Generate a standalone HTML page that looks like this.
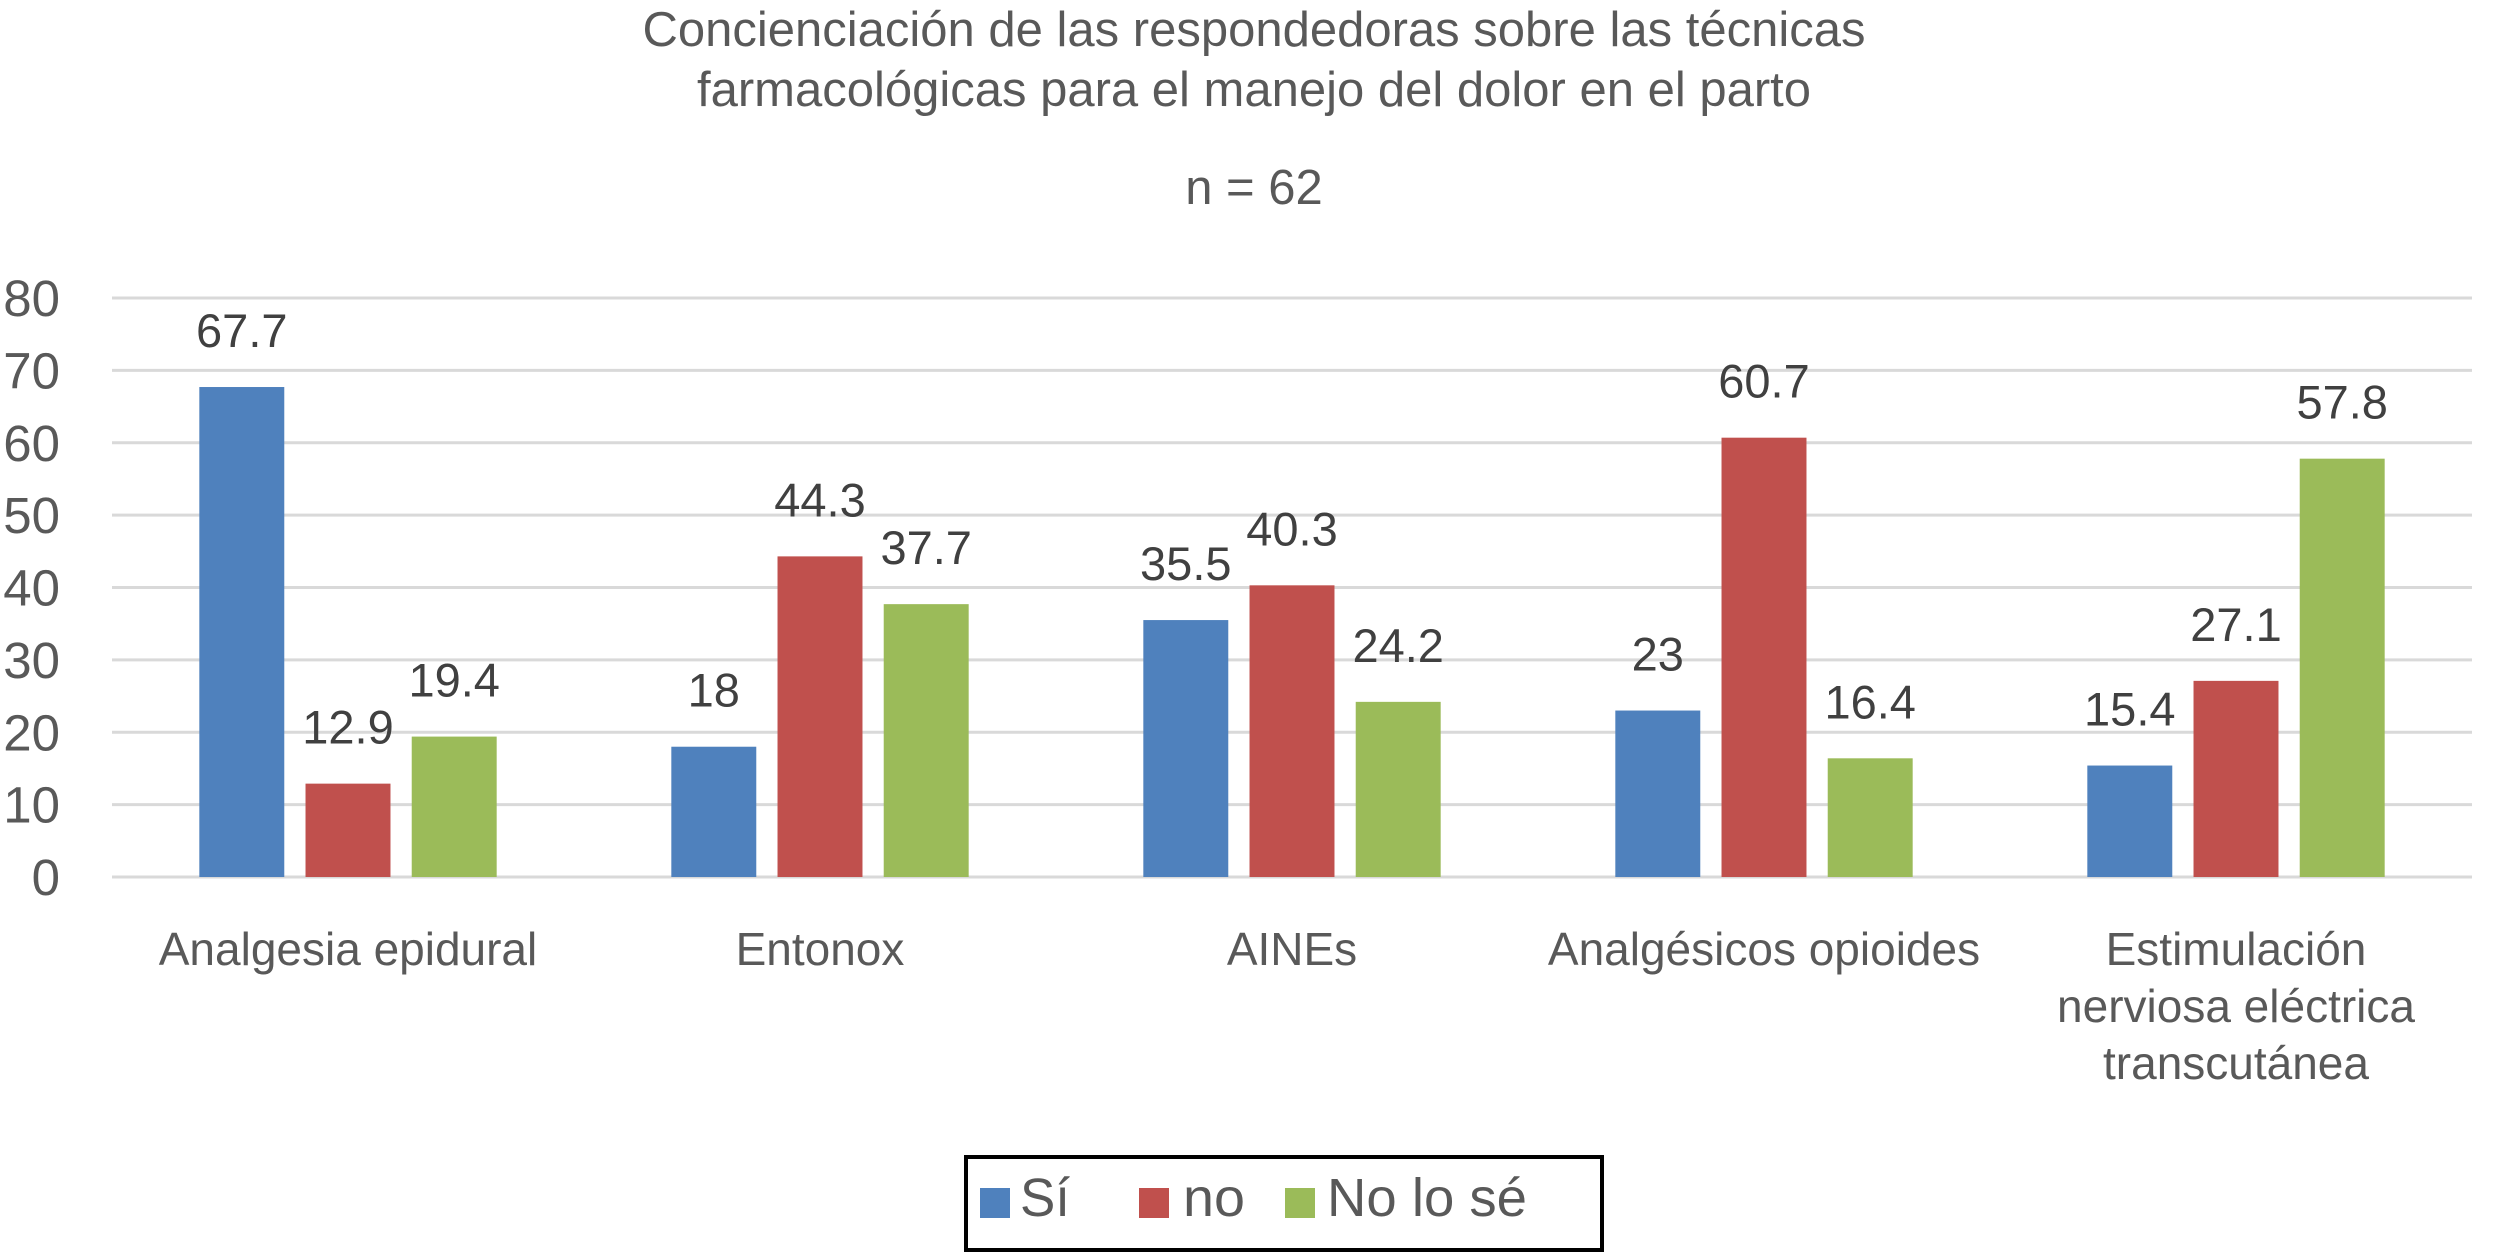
<!DOCTYPE html>
<html><head><meta charset="utf-8"><style>
html,body{margin:0;padding:0;background:#fff;}
svg{display:block;font-family:"Liberation Sans",Arial,sans-serif;}
</style></head><body>
<svg id="chart" width="2509" height="1255" viewBox="0 0 2509 1255" xmlns="http://www.w3.org/2000/svg">
<g fill="#595959" font-size="49" text-anchor="middle">
<text x="1254" y="46">Concienciación de las respondedoras sobre las técnicas</text>
<text x="1254" y="106">farmacológicas para el manejo del dolor en el parto</text>
<text x="1254" y="204">n = 62</text>
</g>
<g id="grid"></g><g id="yticks"></g><g id="bars"></g><g id="vals"></g><g id="cats"></g>
<g>
<rect x="966" y="1157" width="636" height="93" fill="#fff" stroke="#000" stroke-width="4"/>
<rect x="980" y="1188" width="30" height="30" fill="#4f81bd"/>
<text x="1020" y="1216" font-size="54" fill="#595959" textLength="50" lengthAdjust="spacingAndGlyphs">Sí</text>
<rect x="1139" y="1188" width="30" height="30" fill="#c0504d"/>
<text x="1183" y="1216" font-size="54" fill="#595959" textLength="62" lengthAdjust="spacingAndGlyphs">no</text>
<rect x="1285" y="1188" width="30" height="30" fill="#9bbb59"/>
<text x="1327" y="1216" font-size="54" fill="#595959" textLength="200" lengthAdjust="spacingAndGlyphs">No lo sé</text>
</g>
</svg>
<script>
const categories = [["Analgesia epidural"],["Entonox"],["AINEs"],["Analgésicos opioides"],["Estimulación","nerviosa eléctrica","transcutánea"]];
const siValues = [67.7, 18, 35.5, 23, 15.4];
const noValues = [12.9, 44.3, 40.3, 60.7, 27.1];
const nsValues = [19.4, 37.7, 24.2, 16.4, 57.8];
const yTicks = [0,10,20,30,40,50,60,70,80];
const seriesNames = ["si","no","no-lo-se"];
const colors = ["#4f81bd","#c0504d","#9bbb59"];
const NS="http://www.w3.org/2000/svg";
const L=112,R=2472,Y0=877,Y80=298;
const y=v=>Y0-(v/80)*(Y0-Y80);
const cw=(R-L)/categories.length;
const x=i=>L+cw*(i+0.5);
function mk(t,a,p){const e=document.createElementNS(NS,t);for(const k in a)e.setAttribute(k,a[k]);p.appendChild(e);return e;}
const grid=document.getElementById('grid'),yt=document.getElementById('yticks');
yTicks.forEach(v=>{
 const l=mk('line',{x1:L,x2:R,y1:y(v),y2:y(v),stroke:'#d9d9d9','stroke-width':3},grid);
 
 
 const t=mk('text',{x:60,y:y(v)+18,'text-anchor':'end','font-size':51,fill:'#595959'},yt);
 t.textContent=v;
 
 
});
const bars=document.getElementById('bars'),vals=document.getElementById('vals'),cats=document.getElementById('cats');
const series=[siValues,noValues,nsValues];
const bw=cw*0.18,pitch=cw*0.225;
categories.forEach((c,i)=>{
 series.forEach((s,j)=>{
  const cx=x(i)+(j-1)*pitch;
  const r=mk('rect',{x:cx-bw/2,y:y(s[i]),width:bw,height:Y0-y(s[i]),fill:colors[j]},bars);
  
  
  const t=mk('text',{x:cx,y:y(s[i])-40,'text-anchor':'middle','font-size':47,fill:'#404040'},vals);
  t.textContent=String(s[i]);
  
  
 });
 c.forEach((line,k)=>{
  const t=mk('text',{x:x(i),y:965+k*57,'text-anchor':'middle','font-size':46,fill:'#595959'},cats);
  t.textContent=line;
  
  
 });
});
</script>
</body></html>
